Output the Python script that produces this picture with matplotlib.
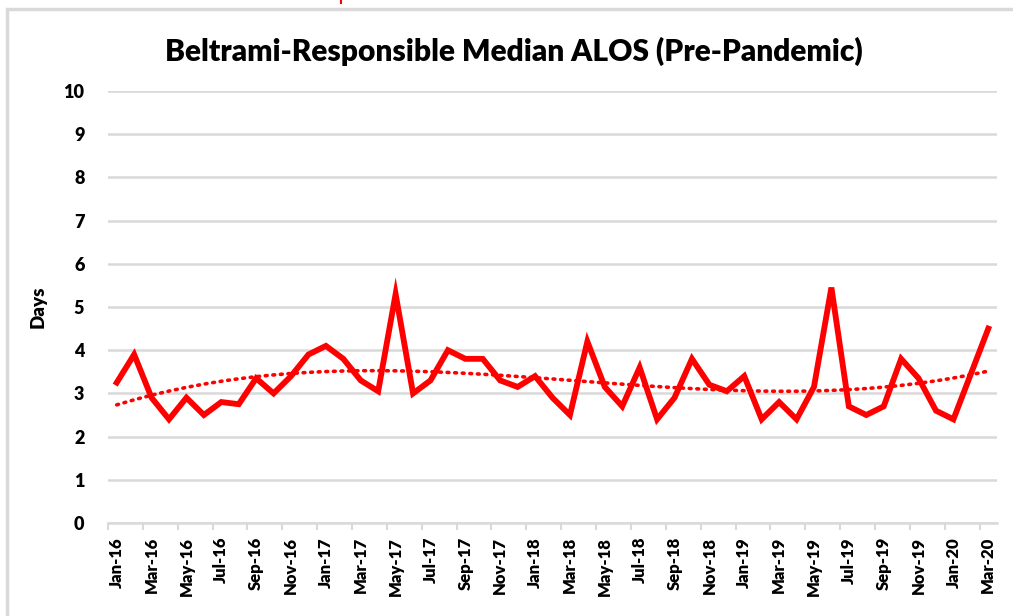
import matplotlib

matplotlib.use("Agg")

import matplotlib.pyplot as plt
import numpy as np
from matplotlib.lines import Line2D
from matplotlib.patches import Rectangle

months = ["Jan", "Feb", "Mar", "Apr", "May", "Jun",
          "Jul", "Aug", "Sep", "Oct", "Nov", "Dec"]
years = ["16", "17", "18", "19", "20"]
labels = [f"{m}-{y}" for y in years for m in months][:51]

alos_2016 = [3.25, 3.9, 2.9, 2.4, 2.9, 2.5, 2.8, 2.75, 3.35, 3.0, 3.4, 3.9]
alos_2017 = [4.1, 3.8, 3.3, 3.05, 5.3, 3.0, 3.3, 4.0, 3.8, 3.8, 3.3, 3.15]
alos_2018 = [3.4, 2.9, 2.5, 4.2, 3.15, 2.7, 3.6, 2.4, 2.9, 3.8, 3.2, 3.05]
alos_2019 = [3.4, 2.4, 2.8, 2.4, 3.15, 5.45, 2.7, 2.5, 2.7, 3.8, 3.35, 2.6]
alos_2020 = [2.4, 3.45, 4.5]
alos = np.array(alos_2016 + alos_2017 + alos_2018 + alos_2019 + alos_2020)

grid_col = "#d9d9d9"
red = "#ff0000"
font = "Lato"

fig = plt.figure(figsize=(10.13, 6.16), dpi=100)
fig.patch.set_facecolor("white")

# outer chart border (Excel chart area)
fig.add_artist(Rectangle((7 / 1013, -0.05), 1.1, (616 - 9) / 616 + 0.05,
                         transform=fig.transFigure, fill=False,
                         edgecolor=grid_col, linewidth=2.5))
# small red mark at top edge
fig.add_artist(Line2D([341 / 1013, 341 / 1013], [1.0, 0.995],
                      transform=fig.transFigure, color=red, linewidth=1.5))

ax = fig.add_axes([108 / 1013, 93 / 616, (997 - 108) / 1013, (523 - 91) / 616])

x = np.arange(len(alos))
ax.plot(x, alos, color=red, linewidth=4.2, solid_joinstyle="miter", zorder=3)

# polynomial trendline (order 3, like Excel)
coef = np.polyfit(x, alos, 3)
ax.plot(x, np.polyval(coef, x), color=red, linewidth=2.6,
        linestyle=(0, (0.5, 1.6)), dash_capstyle="round", zorder=2)

ax.set_xlim(-0.5, len(alos) - 0.5)
ax.set_ylim(0, 10)
ax.set_yticks(np.arange(0, 11, 1))
ax.yaxis.grid(True, color=grid_col, linewidth=1.8)
ax.set_axisbelow(True)

for s in ["top", "right", "left"]:
    ax.spines[s].set_visible(False)
ax.spines["bottom"].set_color(grid_col)
ax.spines["bottom"].set_linewidth(1.8)

ax.set_xticks(x[::2])
ax.set_xticklabels(labels[::2], rotation=90, fontsize=12,
                   fontweight="heavy", family=font)
ax.tick_params(axis="x", length=0, pad=10)
# tick marks at category boundaries every 2 months
ax.set_xticks(np.arange(-0.5, len(alos), 2), minor=True)
ax.tick_params(axis="x", which="minor", length=5, width=1.5, color=grid_col)
ax.tick_params(axis="y", length=0, pad=17)
for t in ax.get_yticklabels():
    t.set_fontsize(13)
    t.set_fontweight("heavy")
    t.set_family(font)

ax.set_ylabel("Days", fontsize=13.5, fontweight="heavy", family=font, labelpad=12)
fig.suptitle("Beltrami-Responsible Median ALOS (Pre-Pandemic)", x=0.507, y=0.94,
             fontsize=21.5, fontweight="heavy", family=font)

fig.savefig("out.png", dpi=100, facecolor="white")
